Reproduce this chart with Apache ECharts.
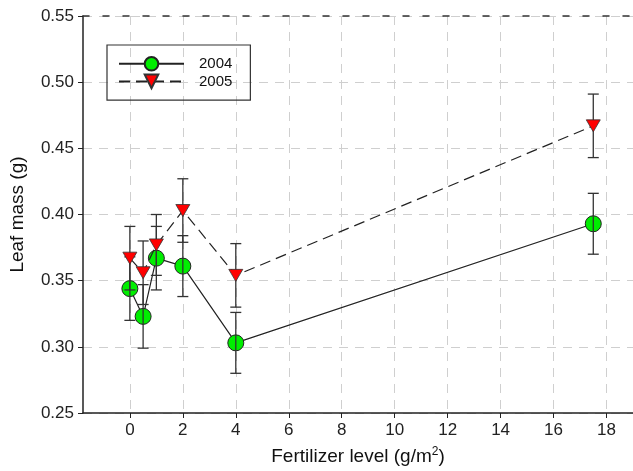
<!DOCTYPE html>
<html>
<head>
<meta charset="utf-8">
<script src="https://cdn.jsdelivr.net/npm/echarts@6/dist/echarts.min.js"></script>
<style>
  html, body { margin: 0; padding: 0; background: #fff; }
  #chart { width: 633px; height: 471px; }
</style>
</head>
<body>
<div id="chart"></div>
<script>
// fertilizer levels (g/m2)
const levels = [0, 0.5, 1, 2, 4, 17.5]
const xTicks = [0, 2, 4, 6, 8, 10, 12, 14, 16, 18]

// leaf mass means and standard errors
const mass2004 = [0.344, 0.323, 0.367, 0.361, 0.303, 0.393]
const err2004 = [0.024, 0.024, 0.024, 0.023, 0.023, 0.023]
const mass2005 = [0.367, 0.356, 0.377, 0.403, 0.354, 0.467]
const err2005 = [0.024, 0.024, 0.023, 0.024, 0.024, 0.024]

const font = 'Liberation Sans, Arial, sans-serif'
const downTri = 'path://M0,0 L12,0 L6,10 Z'

function errData(means, errs) {
  return levels.map((x, i) => [x, means[i] - errs[i], means[i] + errs[i]])
}

function renderErr(params, api) {
  let x = api.value(0)
  let lo = api.coord([x, api.value(1)])
  let hi = api.coord([x, api.value(2)])
  let half = 5.5
  let style = { stroke: '#333', lineWidth: 1.3 }
  return {
    type: 'group',
    children: [
      { type: 'line', shape: { x1: lo[0], y1: lo[1], x2: hi[0], y2: hi[1] }, style },
      { type: 'line', shape: { x1: lo[0] - half, y1: lo[1], x2: lo[0] + half, y2: lo[1] }, style },
      { type: 'line', shape: { x1: hi[0] - half, y1: hi[1], x2: hi[0] + half, y2: hi[1] }, style }
    ]
  }
}

const chart = echarts.init(document.getElementById('chart'))
chart.setOption({
  animation: false,
  textStyle: { fontFamily: font },
  grid: { left: 82, right: 0, top: 16, bottom: 57 },
  legend: {
    orient: 'vertical',
    left: 107,
    top: 45,
    padding: [11, 18, 11, 11],
    itemGap: 2,
    itemWidth: 65,
    itemHeight: 17,
    borderColor: '#333',
    borderWidth: 1.2,
    textStyle: { fontSize: 15, color: '#111', fontFamily: font, padding: [0, 0, 0, 10] },
    data: ['2004', '2005']
  },
  xAxis: [{
    type: 'value',
    min: -1.77,
    max: 19,
    name: 'Fertilizer level (g/m{sup|2})',
    nameLocation: 'middle',
    nameGap: 33,
    nameTextStyle: {
      fontSize: 19, color: '#111',
      rich: { sup: { fontSize: 12, verticalAlign: 'top', padding: [0, 0, 9, 0] } }
    },
    axisLine: { onZero: false, lineStyle: { color: '#222', width: 1.5 } },
    axisTick: { show: true, length: 5, customValues: xTicks, lineStyle: { color: '#222' } },
    axisLabel: { customValues: xTicks, fontSize: 17, color: '#222', margin: 9 },
    splitLine: { show: true, lineStyle: { color: '#cfcfcf', type: [9, 7] } }
  }, {
    type: 'value',
    position: 'top',
    min: -1.77,
    max: 19,
    axisLine: { show: true, onZero: false, lineStyle: { color: '#333', width: 1.5, type: [6, 14] } },
    axisTick: { show: false },
    axisLabel: { show: false },
    splitLine: { show: false }
  }],
  yAxis: {
    type: 'value',
    min: 0.25,
    max: 0.55,
    interval: 0.05,
    name: 'Leaf mass (g)',
    nameLocation: 'middle',
    nameGap: 56,
    nameTextStyle: { fontSize: 19, color: '#111' },
    axisLine: { show: true, onZero: false, lineStyle: { color: '#222', width: 1.5 } },
    axisTick: { show: true, length: 5, lineStyle: { color: '#222' } },
    axisLabel: { fontSize: 17, color: '#222', margin: 9, formatter: v => v.toFixed(2) },
    splitLine: { show: true, lineStyle: { color: '#cfcfcf', type: [9, 7] } }
  },
  series: [{
    name: '2004',
    type: 'line',
    z: 2,
    data: levels.map((x, i) => [x, mass2004[i]]),
    symbol: 'circle',
    symbolSize: 16,
    lineStyle: { color: '#222', width: 1.2 },
    itemStyle: { color: '#00ee00', borderColor: '#222', borderWidth: 1 }
  }, {
    name: 'err2004',
    type: 'custom',
    z: 3,
    data: errData(mass2004, err2004),
    renderItem: renderErr
  }, {
    name: 'err2005',
    type: 'custom',
    z: 3,
    data: errData(mass2005, err2005),
    renderItem: renderErr
  }, {
    name: '2005',
    type: 'line',
    z: 4,
    data: levels.map((x, i) => [x, mass2005[i]]),
    symbol: downTri,
    symbolSize: [14, 12],
    lineStyle: { color: '#222', width: 1.2, type: [11, 6] },
    itemStyle: { color: '#ff0000', borderColor: '#333', borderWidth: 0.8 }
  }]
})
</script>
</body>
</html>
